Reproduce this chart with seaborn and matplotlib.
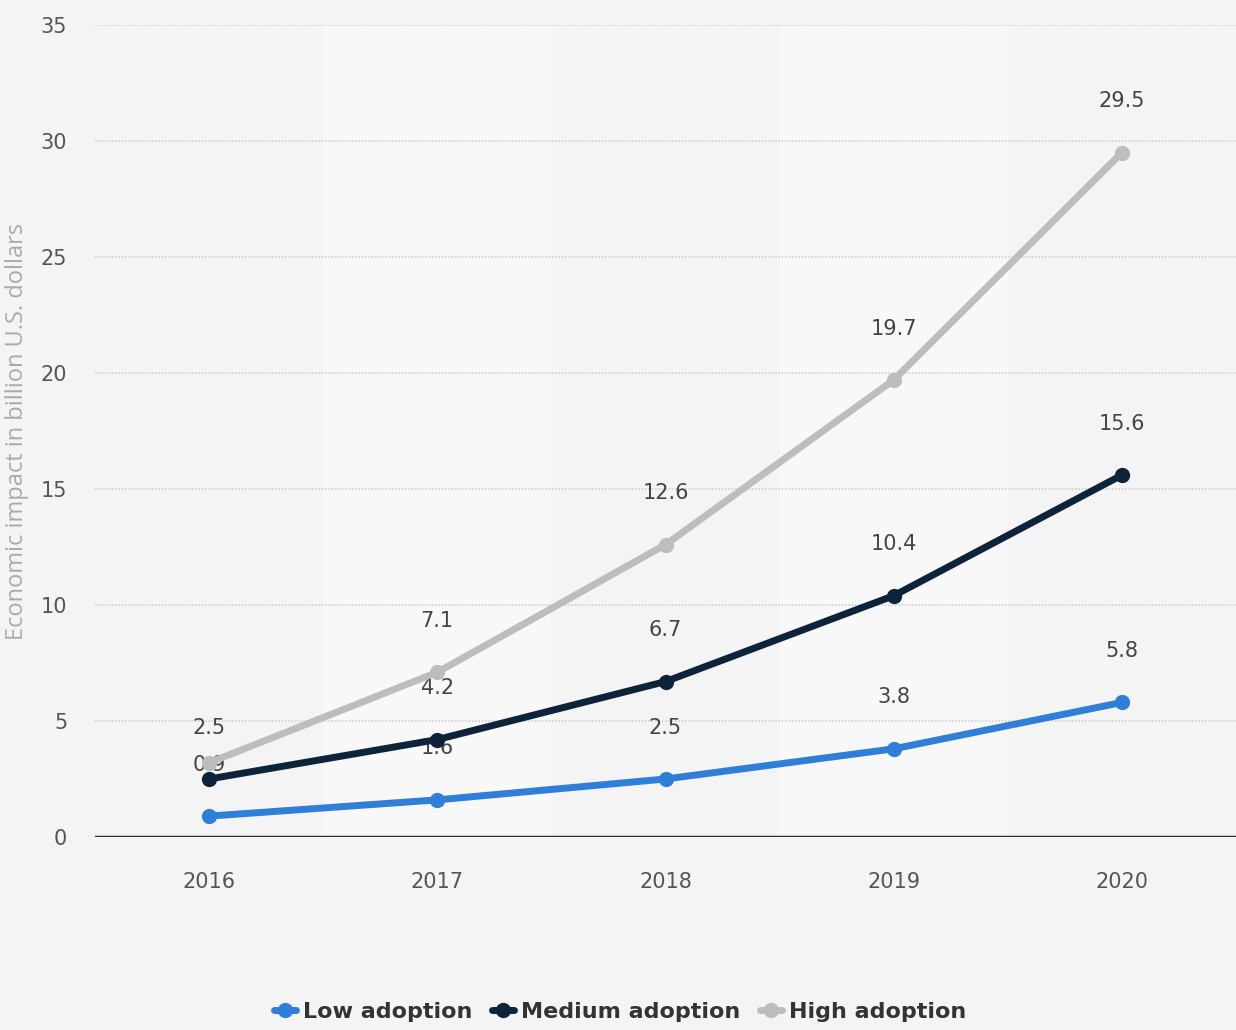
import matplotlib
matplotlib.use("Agg")
import matplotlib.pyplot as plt
import seaborn as sns
import pandas as pd

# Economic impact by adoption scenario (billion U.S. dollars)
years = ["2016", "2017", "2018", "2019", "2020"]
low_adoption = [0.9, 1.6, 2.5, 3.8, 5.8]
medium_adoption = [2.5, 4.2, 6.7, 10.4, 15.6]
high_adoption = [3.2, 7.1, 12.6, 19.7, 29.5]
series_names = ["Low adoption", "Medium adoption", "High adoption"]
y_ticks = [0, 5, 10, 15, 20, 25, 30, 35]
y_label = "Economic impact in billion U.S. dollars"

colors = {"Low adoption": "#2f7ed8", "Medium adoption": "#0d233a",
          "High adoption": "#bdbdbd"}

rows = []
for name, vals in zip(series_names, [low_adoption, medium_adoption, high_adoption]):
    for i, (yr, v) in enumerate(zip(years, vals)):
        rows.append({"idx": i, "year": yr, "value": v, "series": name})
df = pd.DataFrame(rows)

sns.set_theme(style="white")
plt.rcParams["font.family"] = ["DejaVu Sans"]

fig = plt.figure(figsize=(12.36, 10.30), dpi=100, facecolor="#f4f4f4")
ax = fig.add_axes([95 / 1236, 193 / 1030, 1 - 95 / 1236, (837 - 25) / 1030])
ax.set_facecolor("#f4f4f4")

# alternating column bands
for i in range(len(years)):
    if i % 2 == 1:
        ax.axvspan(i - 0.5, i + 0.5, color="#f8f8f8", zorder=0, lw=0)

sns.lineplot(data=df, x="idx", y="value", hue="series", hue_order=series_names,
             palette=colors, marker="o", markersize=11, markeredgewidth=0,
             linewidth=5, ax=ax, legend=True, zorder=3)

ax.set_xlim(-0.5, len(years) - 0.5)
ax.set_ylim(0, 35)
ax.set_xticks(range(len(years)))
ax.set_xticklabels(years)
ax.set_yticks(y_ticks)
ax.tick_params(axis="both", length=0, labelsize=15, labelcolor="#555555")
ax.tick_params(axis="x", pad=25)
ax.tick_params(axis="y", pad=20)
ax.set_xlabel("")
ax.set_ylabel(y_label, fontsize=17, color="#ababab", family="Open Sans",
              va="center")
ax.yaxis.set_label_coords(-0.068, 0.5)

for y in y_ticks[1:]:
    ax.axhline(y, color="#cfcfcf", lw=1.2, ls=(0, (1, 1)), zorder=0.5)
ax.axhline(0, color="#333333", lw=2.5, zorder=2.5)
for s in ax.spines.values():
    s.set_visible(False)

# value labels (the 2016 high-adoption label is hidden behind the others)
for name, vals in zip(series_names, [low_adoption, medium_adoption, high_adoption]):
    for i, v in enumerate(vals):
        if name == "High adoption" and i == 0:
            continue
        ax.annotate(f"{v}", (i, v), xytext=(0, 37), textcoords="offset points",
                    ha="center", va="center", fontsize=15, color="#444444",
                    zorder=1.5)

handles, labels = ax.get_legend_handles_labels()
ax.legend_.remove()
leg = fig.legend(handles, labels, loc="center",
                 bbox_to_anchor=(620 / 1236, 1 - 1012 / 1030),
                 ncol=3, frameon=False, handlelength=1.0, handletextpad=0.3,
                 columnspacing=0.9, prop={"size": 16, "weight": "bold"})
for t in leg.get_texts():
    t.set_color("#333333")

fig.savefig("out.png", dpi=100, facecolor=fig.get_facecolor())
